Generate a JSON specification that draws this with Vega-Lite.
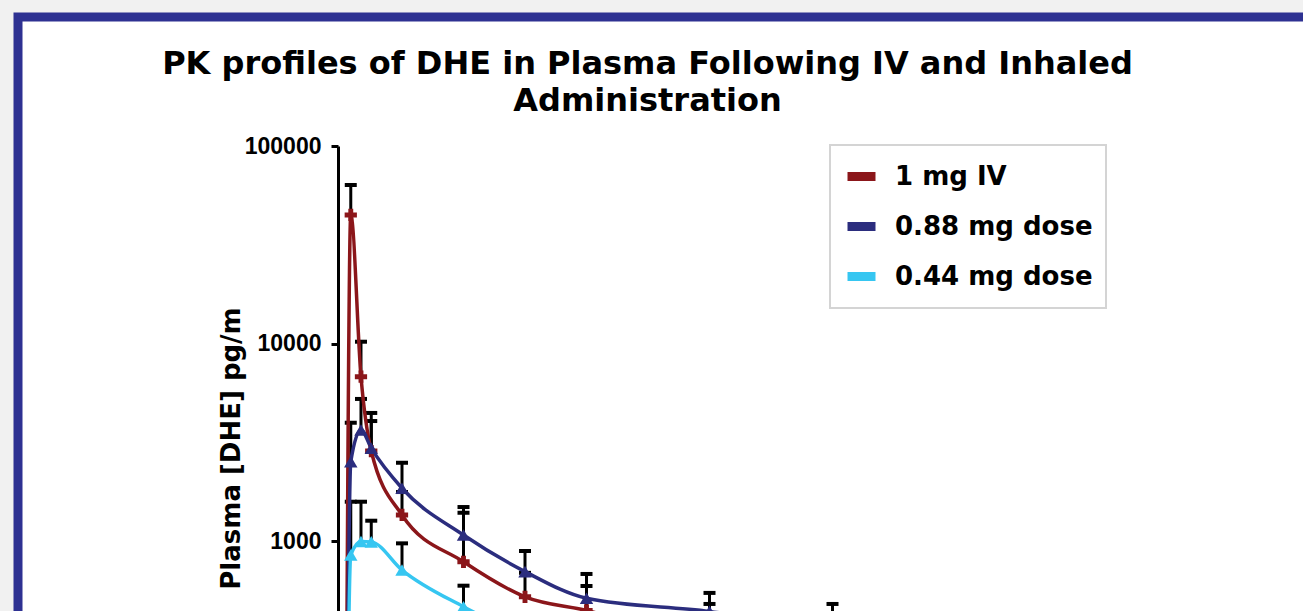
{
  "$schema": "https://vega.github.io/schema/vega-lite/v6.json",
  "width": 1285,
  "height": 594,
  "autosize": {"type": "none"},
  "padding": {"left": 18, "top": 17, "right": 0, "bottom": 0},
  "background": "#f1f1f1",
  "view": {"fill": "white", "stroke": "#2e3192", "strokeWidth": 9, "strokeDash": [1285, 1879, 594], "strokeCap": "square"},
  "config": {
    "legend": {"strokeColor": "#d4d4d4", "strokeWidth": 2, "fillColor": "white"}
  },
  "title": {
    "text": ["PK profiles of DHE in Plasma Following IV and Inhaled", "Administration"],
    "font": "DejaVu Sans", "fontSize": 32, "fontWeight": "bold", "color": "black",
    "lineHeight": 37, "anchor": "middle", "frame": "group", "baseline": "alphabetic",
    "offset": -126, "dx": -13
  },
  "data": {"values": [
    {"series": "1 mg IV", "time": 0.083, "mean": 20, "upper": null},
    {"series": "1 mg IV", "time": 0.167, "mean": 44750, "upper": 63450},
    {"series": "1 mg IV", "time": 0.333, "mean": 6790, "upper": 10210},
    {"series": "1 mg IV", "time": 0.5, "mean": 2855, "upper": 4050},
    {"series": "1 mg IV", "time": 1, "mean": 1355, "upper": 1770},
    {"series": "1 mg IV", "time": 2, "mean": 785, "upper": 1390},
    {"series": "1 mg IV", "time": 3, "mean": 522, "upper": 690},
    {"series": "1 mg IV", "time": 4, "mean": 445, "upper": 592},
    {"series": "1 mg IV", "time": 6, "mean": 300, "upper": 480},
    {"series": "1 mg IV", "time": 8, "mean": 220, "upper": 380},
    {"series": "0.88 mg dose", "time": 0.083, "mean": 20, "upper": null},
    {"series": "0.88 mg dose", "time": 0.167, "mean": 2520, "upper": 3970},
    {"series": "0.88 mg dose", "time": 0.333, "mean": 3650, "upper": 5240},
    {"series": "0.88 mg dose", "time": 0.5, "mean": 2950, "upper": 4450},
    {"series": "0.88 mg dose", "time": 1, "mean": 1850, "upper": 2490},
    {"series": "0.88 mg dose", "time": 2, "mean": 1072, "upper": 1486},
    {"series": "0.88 mg dose", "time": 3, "mean": 700, "upper": 890},
    {"series": "0.88 mg dose", "time": 4, "mean": 513, "upper": 681},
    {"series": "0.88 mg dose", "time": 6, "mean": 440, "upper": 546},
    {"series": "0.88 mg dose", "time": 8, "mean": 350, "upper": 480},
    {"series": "0.44 mg dose", "time": 0.083, "mean": 20, "upper": null},
    {"series": "0.44 mg dose", "time": 0.167, "mean": 850, "upper": 1581},
    {"series": "0.44 mg dose", "time": 0.333, "mean": 995, "upper": 1581},
    {"series": "0.44 mg dose", "time": 0.5, "mean": 990, "upper": 1267},
    {"series": "0.44 mg dose", "time": 1, "mean": 713, "upper": 973},
    {"series": "0.44 mg dose", "time": 2, "mean": 465, "upper": 594},
    {"series": "0.44 mg dose", "time": 3, "mean": 330, "upper": 420},
    {"series": "0.44 mg dose", "time": 4, "mean": 260, "upper": 330},
    {"series": "0.44 mg dose", "time": 6, "mean": 180, "upper": 240},
    {"series": "0.44 mg dose", "time": 8, "mean": 130, "upper": 180}
  ]},
  "encoding": {
    "x": {"field": "time", "type": "quantitative", "scale": {"domain": [-5.2439, 15.6504], "nice": false, "zero": false}, "axis": null}
  },
  "layer": [
    {
      "transform": [{"filter": "datum.upper != null"}],
      "mark": {"type": "rule", "color": "black", "strokeWidth": 3, "opacity": 1},
      "encoding": {
        "y": {
          "field": "mean", "type": "quantitative",
          "scale": {"type": "log", "domain": [442.2, 100000], "range": [594, 129], "nice": false},
          "axis": {
            "values": [1000, 10000, 100000], "format": "d", "offset": -320, "grid": false,
            "domainColor": "black", "domainWidth": 3, "tickColor": "black", "tickWidth": 3, "tickSize": 7,
            "labelFont": "Liberation Sans", "labelFontSize": 23, "labelFontWeight": "bold", "labelColor": "black",
            "labelPadding": 10, "labelFlush": false, "labelOverlap": false,
            "title": "Plasma [DHE] pg/m", "titleFont": "DejaVu Sans", "titleFontSize": 26, "titleFontWeight": "bold",
            "titleColor": "black", "titleX": -94, "titleY": 431, "titleAngle": -90, "titleBaseline": "bottom", "titleAlign": "center"
          }
        },
        "y2": {"field": "upper"}
      }
    },
    {
      "transform": [{"filter": "datum.upper != null"}],
      "mark": {"type": "tick", "color": "black", "orient": "horizontal", "size": 12, "thickness": 4, "opacity": 1},
      "encoding": {
        "y": {"field": "upper", "type": "quantitative", "scale": {"type": "log", "domain": [442.2, 100000], "range": [594, 129], "nice": false}}
      }
    },
    {
      "mark": {"type": "line", "strokeWidth": 3.5, "interpolate": "monotone"},
      "encoding": {
        "y": {"field": "mean", "type": "quantitative", "scale": {"type": "log", "domain": [442.2, 100000], "range": [594, 129], "nice": false}},
        "color": {
          "field": "series", "type": "nominal",
          "scale": {"domain": ["1 mg IV", "0.88 mg dose", "0.44 mg dose"], "range": ["#8b161a", "#2b2d7e", "#36c6f1"]},
          "legend": {
            "orient": "none", "legendX": 812, "legendY": 128, "title": null,
            "labelFont": "DejaVu Sans", "labelFontSize": 26, "labelFontWeight": "bold", "labelColor": "black", "labelLimit": 400,
            "symbolType": "stroke", "symbolSize": 784, "symbolStrokeWidth": 9, "labelOffset": 15,
            "padding": 13, "rowPadding": 13
          }
        }
      }
    },
    {
      "transform": [{"filter": "datum.series == '1 mg IV'"}],
      "mark": {"type": "point", "filled": true, "opacity": 1, "size": 150, "shape": "cross"},
      "encoding": {
        "y": {"field": "mean", "type": "quantitative", "scale": {"type": "log", "domain": [442.2, 100000], "range": [594, 129], "nice": false}},
        "color": {"field": "series", "type": "nominal", "legend": null}
      }
    },
    {
      "transform": [{"filter": "datum.series != '1 mg IV'"}],
      "mark": {"type": "point", "filled": true, "opacity": 1, "size": 180, "shape": "triangle-up"},
      "encoding": {
        "y": {"field": "mean", "type": "quantitative", "scale": {"type": "log", "domain": [442.2, 100000], "range": [594, 129], "nice": false}},
        "color": {"field": "series", "type": "nominal", "legend": null}
      }
    }
  ]
}
